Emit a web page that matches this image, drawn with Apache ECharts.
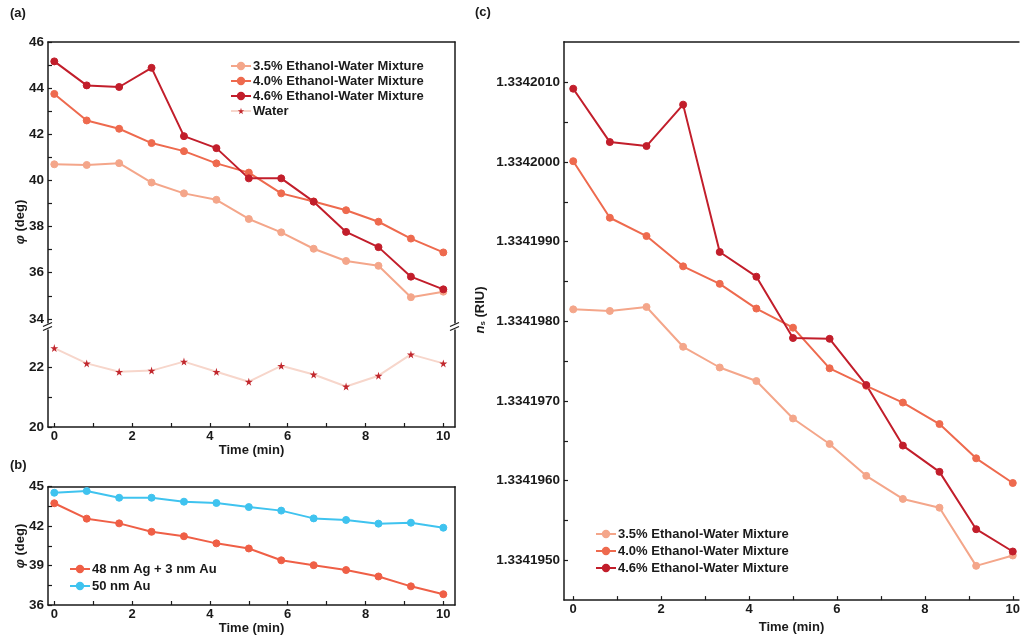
<!DOCTYPE html>
<html>
<head>
<meta charset="utf-8">
<script src="https://cdn.jsdelivr.net/npm/echarts@6/dist/echarts.min.js"></script>
<style>
html, body { margin: 0; padding: 0; background: #fff; }
#chart { width: 1023px; height: 639px; }
</style>
</head>
<body>
<div id="chart"></div>
<script>
// sampling times (min)
var times = [0, 0.833, 1.667, 2.5, 3.333, 4.167, 5, 5.833, 6.667, 7.5, 8.333, 9.167, 10];

// panel (a) phase angle, deg
var phi35 = [40.70, 40.67, 40.75, 39.91, 39.44, 39.16, 38.33, 37.75, 37.04, 36.51, 36.30, 34.94, 35.18];
var phi40 = [43.75, 42.60, 42.24, 41.62, 41.27, 40.74, 40.34, 39.44, 39.09, 38.71, 38.21, 37.48, 36.88];
var phi46 = [45.16, 44.12, 44.05, 44.88, 41.92, 41.40, 40.09, 40.09, 39.08, 37.77, 37.11, 35.83, 35.28];
var phiWater = [22.63, 22.12, 21.84, 21.88, 22.18, 21.84, 21.51, 22.04, 21.75, 21.35, 21.71, 22.42, 22.12];

// panel (b)
var phiAgAu = [43.74, 42.57, 42.21, 41.57, 41.23, 40.69, 40.30, 39.40, 39.03, 38.66, 38.17, 37.42, 36.82];
var phiAu = [44.54, 44.67, 44.16, 44.16, 43.86, 43.76, 43.45, 43.18, 42.59, 42.47, 42.19, 42.26, 41.88];

// panel (c) refractive index, RIU
var ns35 = [1.33419815, 1.33419813, 1.33419818, 1.33419768, 1.33419742, 1.33419725, 1.33419678, 1.33419646, 1.33419606, 1.33419577, 1.33419566, 1.33419493, 1.33419506];
var ns40 = [1.33420001, 1.33419930, 1.33419907, 1.33419869, 1.33419847, 1.33419816, 1.33419792, 1.33419741, 1.33419719, 1.33419698, 1.33419671, 1.33419628, 1.33419597];
var ns46 = [1.33420092, 1.33420025, 1.33420020, 1.33420072, 1.33419887, 1.33419856, 1.33419779, 1.33419778, 1.33419720, 1.33419644, 1.33419611, 1.33419539, 1.33419511];

var names = ['3.5% Ethanol-Water Mixture', '4.0% Ethanol-Water Mixture', '4.6% Ethanol-Water Mixture', 'Water'];
var namesB = ['48 nm Ag + 3 nm Au', '50 nm Au'];

// tick labels / ticks
var timeLabels = [0, 2, 4, 6, 8, 10];
var timeTicks = [0, 1, 2, 3, 4, 5, 6, 7, 8, 9, 10];
var aUpperLabels = [34, 36, 38, 40, 42, 44, 46];
var aUpperTicks = [34, 35, 36, 37, 38, 39, 40, 41, 42, 43, 44, 45, 46];
var aLowerLabels = [20, 22];
var aLowerTicks = [20, 21, 22];
var bLabels = [36, 39, 42, 45];
var bTicks = [36, 37.5, 39, 40.5, 42, 43.5, 45];
var cLabels = [1.334195, 1.334196, 1.334197, 1.334198, 1.334199, 1.334200, 1.334201];
var cTicks = [1.334195, 1.3341955, 1.334196, 1.3341965, 1.334197, 1.3341975, 1.334198, 1.3341985, 1.334199, 1.3341995, 1.334200, 1.3342005, 1.334201];

var FONT = '"Liberation Sans", Arial, sans-serif';
var INK = '#1a1a1a';
var C35 = '#f4a68a', C40 = '#ee6a4e', C46 = '#c21e2b';
var STAR = 'path://M50,0 L61,35 L98,35 L68,57 L79,91 L50,70 L21,91 L32,57 L2,35 L39,35 Z';

function zip(xs, ys) {
    return xs.map(function (x, i) { return [x, ys[i]]; });
}

// plain axis: just the box line
function lineAxis(extra) {
    var axis = {
        type: 'value',
        axisLine: { show: true, onZero: false, lineStyle: { color: INK, width: 1.5 } },
        axisTick: { show: false },
        axisLabel: { show: false },
        splitLine: { show: false }
    };
    for (var k in extra) axis[k] = extra[k];
    return axis;
}

// axis with inside ticks and bold labels
function tickAxis(extra, labels, ticks, fmt) {
    var axis = lineAxis(extra);
    axis.axisTick = { show: true, inside: true, length: 4, customValues: ticks, lineStyle: { color: INK, width: 1.2 } };
    axis.axisLabel = { show: true, customValues: labels, margin: 4, color: INK, fontFamily: FONT, fontWeight: 'bold', fontSize: 13.5, formatter: fmt };
    return axis;
}

function timeAxis(grid, min, max, withName) {
    var axis = tickAxis({ gridIndex: grid, min: min, max: max, position: 'bottom' }, timeLabels, timeTicks);
    axis.axisLabel.fontSize = 13;
    axis.axisLabel.margin = 3;
    if (withName) {
        axis.name = 'Time (min)';
        axis.nameLocation = 'middle';
        axis.nameGap = 14;
        axis.nameTextStyle = { color: INK, fontFamily: FONT, fontWeight: 'bold', fontSize: 13, verticalAlign: 'top' };
    }
    return axis;
}

function dotSeries(name, color, data, xi, yi) {
    return {
        name: name,
        type: 'line',
        xAxisIndex: xi,
        yAxisIndex: yi,
        data: data,
        symbol: 'circle',
        symbolSize: 7,
        lineStyle: { color: color, width: 2 },
        itemStyle: { color: color, borderColor: color, borderWidth: 1 },
        emphasis: { disabled: true },
        animation: false
    };
}

function legendBox(left, top, data, gap) {
    return {
        orient: 'vertical',
        left: left,
        top: top,
        data: data,
        itemWidth: 20,
        itemHeight: 8,
        itemGap: gap,
        padding: 0,
        selectedMode: false,
        textStyle: { color: INK, fontFamily: FONT, fontWeight: 'bold', fontSize: 13, lineHeight: 14, padding: [0, 0, 0, -3] }
    };
}

function label(text, x, y) {
    return { type: 'text', x: x, y: y, style: { text: text, fill: INK, font: 'bold 13px ' + FONT, align: 'left', verticalAlign: 'middle' } };
}

function yName(rich, x, y) {
    return {
        type: 'text', x: x, y: y, rotation: Math.PI / 2,
        style: {
            text: rich, fill: INK, font: 'bold 13px ' + FONT, align: 'center', verticalAlign: 'middle',
            rich: {
                i: { fontStyle: 'italic', fontWeight: 'bold', fontSize: 13, fontFamily: FONT, fill: INK },
                s: { fontWeight: 'bold', fontSize: 8, fontFamily: FONT, fill: INK, verticalAlign: 'bottom', padding: [6, 0, 0, 0] }
            }
        }
    };
}

// "//" marks where the axis is broken
function breakMark(x, y) {
    return [
        { type: 'rect', shape: { x: x - 4, y: y - 3, width: 8, height: 6 }, style: { fill: '#fff' }, z: 100 },
        { type: 'line', shape: { x1: x - 5, y1: y, x2: x + 4, y2: y - 4 }, style: { stroke: INK, lineWidth: 1.3 }, z: 101 },
        { type: 'line', shape: { x1: x - 5, y1: y + 4, x2: x + 4, y2: y }, style: { stroke: INK, lineWidth: 1.3 }, z: 101 }
    ];
}

var chart = echarts.init(document.getElementById('chart'), null, { renderer: 'canvas' });

var xMinAB = -0.162, xMaxAB = 10.30;

var option = {
    backgroundColor: '#fff',
    animation: false,
    grid: [
        { left: 48, top: 42, width: 407, height: 284.5 },     // (a) upper
        { left: 48, top: 326.5, width: 407, height: 100.5 },  // (a) lower
        { left: 48, top: 486.7, width: 407, height: 118.3 },  // (b)
        { left: 564, top: 41.7, right: 0, height: 564 }       // (c)
    ],
    xAxis: [
        lineAxis({ gridIndex: 0, min: xMinAB, max: xMaxAB, position: 'top' }),
        timeAxis(1, xMinAB, xMaxAB, true),
        timeAxis(2, xMinAB, xMaxAB, true),
        lineAxis({ gridIndex: 2, min: xMinAB, max: xMaxAB, position: 'top' }),
        timeAxis(3, -0.21, 10.14, true),
        lineAxis({ gridIndex: 3, min: -0.21, max: 10.14, position: 'top' })
    ],
    yAxis: [
        tickAxis({ gridIndex: 0, min: 33.67, max: 46 }, aUpperLabels, aUpperTicks),
        lineAxis({ gridIndex: 0, min: 33.67, max: 46, position: 'right' }),
        tickAxis({ gridIndex: 1, min: 20, max: 23.35 }, aLowerLabels, aLowerTicks),
        lineAxis({ gridIndex: 1, min: 20, max: 23.35, position: 'right' }),
        tickAxis({ gridIndex: 2, min: 36, max: 45 }, bLabels, bTicks),
        lineAxis({ gridIndex: 2, min: 36, max: 45, position: 'right' }),
        tickAxis({ gridIndex: 3, min: 1.3341945, max: 1.33420151 }, cLabels, cTicks, function (v) { return v.toFixed(7); })
    ],
    legend: [
        legendBox(230, 59, names, 1),
        legendBox(69, 562, namesB, 3),
        legendBox(595, 527, names.slice(0, 3), 3)
    ],
    series: [
        dotSeries(names[0], C35, zip(times, phi35), 0, 0),
        dotSeries(names[1], C40, zip(times, phi40), 0, 0),
        dotSeries(names[2], C46, zip(times, phi46), 0, 0),
        {
            name: names[3],
            type: 'line',
            xAxisIndex: 1,
            yAxisIndex: 2,
            data: zip(times, phiWater),
            symbol: STAR,
            symbolSize: 8,
            lineStyle: { color: '#f7d6cb', width: 2 },
            itemStyle: { color: '#c1272d' },
            emphasis: { disabled: true }
        },
        dotSeries(namesB[0], '#ef5f46', zip(times, phiAgAu), 2, 4),
        dotSeries(namesB[1], '#3fc3ef', zip(times, phiAu), 2, 4),
        dotSeries(names[0], C35, zip(times, ns35), 4, 6),
        dotSeries(names[1], C40, zip(times, ns40), 4, 6),
        dotSeries(names[2], C46, zip(times, ns46), 4, 6)
    ],
    graphic: [
        label('(a)', 10, 13),
        label('(b)', 10, 465),
        label('(c)', 475, 12),
        yName('{i|φ} (deg)', 20, 222),
        yName('{i|φ} (deg)', 20, 546),
        yName('{i|n}{s|s} (RIU)', 480, 310)
    ].concat(breakMark(48, 326.5)).concat(breakMark(455, 326.5))
};

chart.setOption(option);
</script>
</body>
</html>
